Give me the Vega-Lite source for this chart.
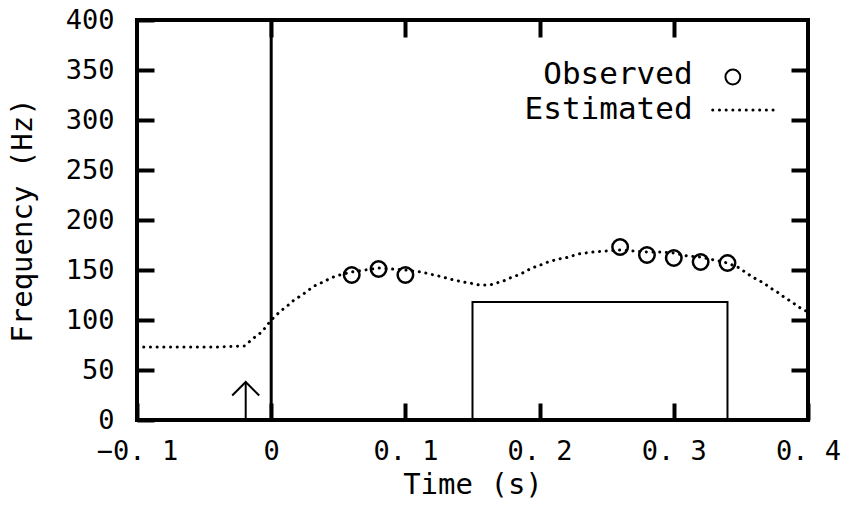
{
  "$schema": "https://vega.github.io/schema/vega-lite/v6.json",
  "width": 671,
  "height": 400,
  "autosize": {"type": "none"},
  "padding": {"left": 137, "top": 20, "right": 33, "bottom": 98},
  "background": "white",
  "config": {
    "view": {"stroke": "black", "strokeWidth": 4},
    "font": "DejaVu Sans Mono",
    "axis": {
      "grid": false,
      "domain": false,
      "tickColor": "black",
      "tickWidth": 4,
      "tickSize": -17,
      "labelColor": "black",
      "titleColor": "black",
      "labelFont": "DejaVu Sans Mono",
      "titleFont": "DejaVu Sans Mono",
      "labelFontWeight": "normal",
      "titleFontWeight": "normal",
      "labelFontSize": 27,
      "titleFontSize": 29
    }
  },
  "datasets": {
    "curve": [
      {"t": -0.1, "f": 73}, {"t": -0.08, "f": 73}, {"t": -0.06, "f": 73}, {"t": -0.04, "f": 73},
      {"t": -0.02, "f": 74}, {"t": -0.013, "f": 82}, {"t": -0.007, "f": 88}, {"t": 0.0, "f": 100},
      {"t": 0.007, "f": 109}, {"t": 0.012, "f": 114}, {"t": 0.017, "f": 120}, {"t": 0.023, "f": 125},
      {"t": 0.028, "f": 130}, {"t": 0.032, "f": 134}, {"t": 0.037, "f": 137}, {"t": 0.043, "f": 141},
      {"t": 0.048, "f": 144}, {"t": 0.06, "f": 148}, {"t": 0.08, "f": 152}, {"t": 0.1, "f": 150},
      {"t": 0.112, "f": 148}, {"t": 0.118, "f": 146}, {"t": 0.128, "f": 143}, {"t": 0.133, "f": 141},
      {"t": 0.143, "f": 138}, {"t": 0.148, "f": 137}, {"t": 0.155, "f": 135}, {"t": 0.163, "f": 135},
      {"t": 0.168, "f": 137}, {"t": 0.173, "f": 139}, {"t": 0.178, "f": 142}, {"t": 0.184, "f": 145},
      {"t": 0.189, "f": 148}, {"t": 0.194, "f": 152}, {"t": 0.199, "f": 154}, {"t": 0.204, "f": 157},
      {"t": 0.209, "f": 159}, {"t": 0.214, "f": 161}, {"t": 0.219, "f": 162}, {"t": 0.224, "f": 164},
      {"t": 0.229, "f": 166}, {"t": 0.234, "f": 167}, {"t": 0.24, "f": 168}, {"t": 0.25, "f": 169},
      {"t": 0.26, "f": 170}, {"t": 0.27, "f": 169}, {"t": 0.28, "f": 168}, {"t": 0.29, "f": 168},
      {"t": 0.3, "f": 167}, {"t": 0.31, "f": 164}, {"t": 0.32, "f": 163}, {"t": 0.33, "f": 160},
      {"t": 0.34, "f": 157}, {"t": 0.349, "f": 152}, {"t": 0.354, "f": 147}, {"t": 0.36, "f": 142},
      {"t": 0.367, "f": 137}, {"t": 0.372, "f": 132}, {"t": 0.377, "f": 128}, {"t": 0.382, "f": 123},
      {"t": 0.388, "f": 118}, {"t": 0.393, "f": 113}, {"t": 0.4, "f": 108}
    ],
    "observed": [
      {"t": 0.06, "f": 145}, {"t": 0.08, "f": 151}, {"t": 0.1, "f": 145},
      {"t": 0.26, "f": 173}, {"t": 0.28, "f": 165}, {"t": 0.3, "f": 162},
      {"t": 0.32, "f": 158}, {"t": 0.34, "f": 157}
    ],
    "onset": [{"t": 0, "f0": 0, "f1": 400}],
    "box": [{"t0": 0.15, "t1": 0.34, "f0": 0, "f1": 118}],
    "arrow": [{"t": -0.019, "f0": 0, "f1": 38}],
    "legendText": [
      {"t": 0.314, "f": 345, "label": "Observed"},
      {"t": 0.314, "f": 310, "label": "Estimated"}
    ],
    "legendCircle": [{"t": 0.344, "f": 343}],
    "legendLine": [{"t": 0.329, "f": 310}, {"t": 0.374, "f": 310}]
  },
  "resolve": {"axis": {"x": "independent", "y": "independent"}},
  "layer": [
    {
      "data": {"name": "curve"},
      "mark": {"type": "line", "color": "black", "strokeWidth": 3, "strokeCap": "round", "strokeDash": [0.1, 6.6]},
      "encoding": {
        "x": {
          "field": "t", "type": "quantitative",
          "scale": {"domain": [-0.1, 0.4], "nice": false, "zero": false},
          "axis": {
            "orient": "bottom",
            "values": [-0.1, 0, 0.1, 0.2, 0.3, 0.4],
            "labelExpr": "datum.value == 0 ? '0' : replace(format(datum.value, '.1f'), '.', '. ')",
            "labelPadding": 35,
            "labelBaseline": "top",
            "labelFlush": false,
            "labelOverlap": false,
            "title": "Time (s)",
            "titlePadding": 6
          }
        },
        "y": {
          "field": "f", "type": "quantitative",
          "scale": {"domain": [0, 400], "nice": false},
          "axis": {
            "orient": "left",
            "values": [0, 50, 100, 150, 200, 250, 300, 350, 400],
            "labelPadding": 40,
            "labelFlush": false,
            "labelOverlap": false,
            "title": "Frequency (Hz)",
            "titlePadding": 28
          }
        }
      }
    },
    {
      "data": {"name": "observed"},
      "mark": {"type": "point", "shape": "circle", "filled": false, "color": "black", "strokeWidth": 2.5, "size": 240, "opacity": 1},
      "encoding": {
        "x": {
          "field": "t", "type": "quantitative",
          "axis": {"orient": "top", "values": [0, 0.1, 0.2, 0.3], "labels": false, "title": null}
        },
        "y": {
          "field": "f", "type": "quantitative",
          "axis": {"orient": "right", "values": [50, 100, 150, 200, 250, 300, 350], "labels": false, "title": null}
        }
      }
    },
    {
      "data": {"name": "onset"},
      "mark": {"type": "rule", "color": "black", "strokeWidth": 3},
      "encoding": {
        "x": {"field": "t", "type": "quantitative", "axis": null},
        "y": {"field": "f0", "type": "quantitative", "axis": null},
        "y2": {"field": "f1"}
      }
    },
    {
      "data": {"name": "box"},
      "mark": {"type": "rect", "fill": "transparent", "stroke": "black", "strokeWidth": 2},
      "encoding": {
        "x": {"field": "t0", "type": "quantitative", "axis": null},
        "x2": {"field": "t1"},
        "y": {"field": "f0", "type": "quantitative", "axis": null},
        "y2": {"field": "f1"}
      }
    },
    {
      "data": {"name": "arrow"},
      "mark": {"type": "rule", "color": "black", "strokeWidth": 2},
      "encoding": {
        "x": {"field": "t", "type": "quantitative", "axis": null},
        "y": {"field": "f0", "type": "quantitative", "axis": null},
        "y2": {"field": "f1"}
      }
    },
    {
      "data": {"name": "arrow"},
      "mark": {"type": "point", "shape": "M-1,1L0,0L1,1", "filled": false, "color": "black", "strokeWidth": 2, "size": 729, "opacity": 1},
      "encoding": {
        "x": {"field": "t", "type": "quantitative", "axis": null},
        "y": {"field": "f1", "type": "quantitative", "axis": null}
      }
    },
    {
      "data": {"name": "legendText"},
      "mark": {"type": "text", "align": "right", "baseline": "middle", "font": "DejaVu Sans Mono", "fontSize": 31, "color": "black"},
      "encoding": {
        "x": {"field": "t", "type": "quantitative", "axis": null},
        "y": {"field": "f", "type": "quantitative", "axis": null},
        "text": {"field": "label"}
      }
    },
    {
      "data": {"name": "legendCircle"},
      "mark": {"type": "point", "shape": "circle", "filled": false, "color": "black", "strokeWidth": 2, "size": 220, "opacity": 1},
      "encoding": {
        "x": {"field": "t", "type": "quantitative", "axis": null},
        "y": {"field": "f", "type": "quantitative", "axis": null}
      }
    },
    {
      "data": {"name": "legendLine"},
      "mark": {"type": "line", "color": "black", "strokeWidth": 3, "strokeCap": "round", "strokeDash": [0.1, 6.6]},
      "encoding": {
        "x": {"field": "t", "type": "quantitative", "axis": null},
        "y": {"field": "f", "type": "quantitative", "axis": null}
      }
    }
  ]
}
